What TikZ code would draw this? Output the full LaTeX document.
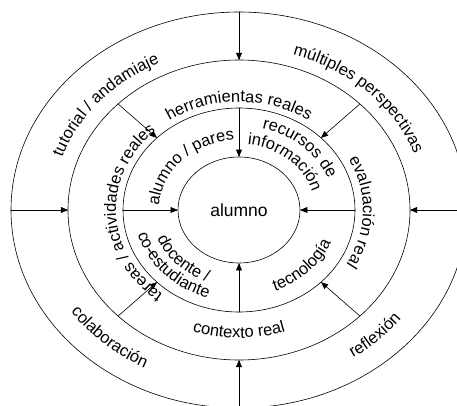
\documentclass[tikz,border=0pt]{standalone}
\usepackage{fontspec}
\setmainfont{Liberation Sans}
\usetikzlibrary{arrows}
\usetikzlibrary{positioning}
\usetikzlibrary{shapes.geometric}
\usetikzlibrary{decorations.text}
\newcommand{\ringfont}{\fontsize{16.5}{19}\selectfont}
\tikzset{ringtext/.style={decorate,decoration={text along path,text align=center,text={|\ringfont|#1}}}}

\begin{document}
\begin{tikzpicture}[line cap=round,line join=round,>=triangle 45,x=1pt,y=1pt]
\useasboundingbox (-239,-195) rectangle (218,210);
\draw [line width=0.6pt] (0,0) ellipse (228pt and 198pt);
\draw [line width=0.6pt] (0,0) ellipse (171pt and 150pt);
\draw [line width=0.6pt] (0,0) ellipse (116pt and 102pt);
\node [ellipse,draw,line width=0.6pt,minimum width=122pt,minimum height=106pt,inner sep=0pt,font=\fontsize{17.5}{20}\selectfont] (alumno) at (0,0) {alumno};
\coordinate (o-n) at (90:228pt and 198pt);
\coordinate (o-w) at (180:228pt and 198pt);
\coordinate (o-s) at (270:228pt and 198pt);
\coordinate (o-e) at (0:228pt and 198pt);
\coordinate (t-n) at (90:171pt and 150pt);
\coordinate (t-w) at (180:171pt and 150pt);
\coordinate (t-s) at (270:171pt and 150pt);
\coordinate (t-e) at (0:171pt and 150pt);
\coordinate (t-ne) at (45:171pt and 150pt);
\coordinate (t-nw) at (135:171pt and 150pt);
\coordinate (t-sw) at (225:171pt and 150pt);
\coordinate (t-se) at (315:171pt and 150pt);
\coordinate (m-n) at (90:116pt and 102pt);
\coordinate (m-w) at (180:116pt and 102pt);
\coordinate (m-s) at (270:116pt and 102pt);
\coordinate (m-e) at (0:116pt and 102pt);
\coordinate (m-ne) at (45:116pt and 102pt);
\coordinate (m-nw) at (135:116pt and 102pt);
\coordinate (m-sw) at (225:116pt and 102pt);
\coordinate (m-se) at (315:116pt and 102pt);
\draw [->,line width=0.6pt] (o-n)-- (t-n);
\draw [->,line width=0.6pt] (o-w)-- (t-w);
\draw [->,line width=0.6pt] (o-s)-- (t-s);
\draw [->,line width=0.6pt] (o-e)-- (t-e);
\draw [->,line width=0.6pt] (t-ne)-- (m-ne);
\draw [->,line width=0.6pt] (t-nw)-- (m-nw);
\draw [->,line width=0.6pt] (t-sw)-- (m-sw);
\draw [->,line width=0.6pt] (t-se)-- (m-se);
\draw [->,line width=0.6pt] (m-n)-- (alumno.north);
\draw [->,line width=0.6pt] (m-w)-- (alumno.west);
\draw [->,line width=0.6pt] (m-s)-- (alumno.south);
\draw [->,line width=0.6pt] (m-e)-- (alumno.east);
\path [ringtext={alumno / pares}] (192:80pt and 70pt) arc[start angle=192,end angle=80,x radius=80pt,y radius=70pt];
\path [ringtext={recursos de}] (103:96pt and 84pt) arc[start angle=103,end angle=-9,x radius=96pt,y radius=84pt];
\path [ringtext={información}] (104:76pt and 66pt) arc[start angle=104,end angle=-8,x radius=76pt,y radius=66pt];
\path [ringtext={docente /}] (163:88pt and 77pt) arc[start angle=163,end angle=283,x radius=88pt,y radius=77pt];
\path [ringtext={co-estudiante}] (162:105pt and 92pt) arc[start angle=162,end angle=282,x radius=105pt,y radius=92pt];
\path [ringtext={tecnología}] (-103:99pt and 87pt) arc[start angle=-103,end angle=17,x radius=99pt,y radius=87pt];
\path [ringtext={herramientas reales}] (170:124pt and 108pt) arc[start angle=170,end angle=10,x radius=124pt,y radius=108pt];
\path [ringtext={evaluación real}] (60:124pt and 108pt) arc[start angle=60,end angle=-62,x radius=124pt,y radius=108pt];
\path [ringtext={tareas / actividades reales}] (252:123pt and 107pt) arc[start angle=252,end angle=112,x radius=123pt,y radius=107pt];
\path [ringtext={contexto real}] (200:147pt and 128pt) arc[start angle=200,end angle=340,x radius=147pt,y radius=128pt];
\path [ringtext={tutorial / andamiaje}] (211:187pt and 162pt) arc[start angle=211,end angle=71,x radius=187pt,y radius=162pt];
\path [ringtext={múltiples perspectivas}] (114:187pt and 162pt) arc[start angle=114,end angle=-26,x radius=187pt,y radius=162pt];
\path [ringtext={reflexión}] (-104:205pt and 178pt) arc[start angle=-104,end angle=16,x radius=205pt,y radius=178pt];
\path [ringtext={colaboración}] (166:205pt and 178pt) arc[start angle=166,end angle=286,x radius=205pt,y radius=178pt];
\end{tikzpicture}
\end{document}
